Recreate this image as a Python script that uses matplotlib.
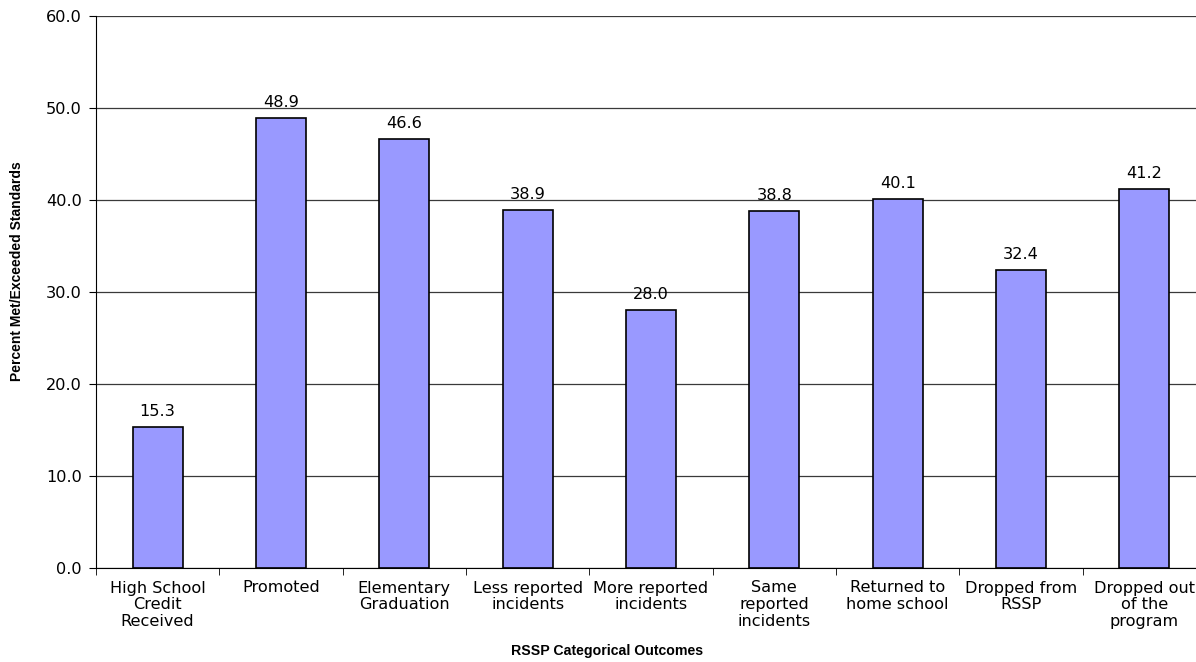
import matplotlib
matplotlib.use("Agg")
import matplotlib.pyplot as plt
import numpy as np

categories = [
    "High School\nCredit\nReceived",
    "Promoted",
    "Elementary\nGraduation",
    "Less reported\nincidents",
    "More reported\nincidents",
    "Same\nreported\nincidents",
    "Returned to\nhome school",
    "Dropped from\nRSSP",
    "Dropped out\nof the\nprogram",
]
values = [15.3, 48.9, 46.6, 38.9, 28.0, 38.8, 40.1, 32.4, 41.2]
y_ticks = [0, 10, 20, 30, 40, 50, 60]

plt.rcParams["font.family"] = ["DejaVu Sans"]
LABEL_FONT = ["Liberation Sans", "DejaVu Sans"]
FS = 11.6

W, H = 1196, 662
fig = plt.figure(figsize=(W / 100, H / 100), dpi=100)
ax = fig.add_axes([96 / W, 1 - 568 / H, 1110 / W, 552 / H])

x = np.arange(len(categories))
ax.set_axisbelow(True)
ax.yaxis.grid(True, color="#3a3a3a", linewidth=0.9)
ax.bar(x, values, width=0.405, color="#9999FF", edgecolor="black", linewidth=1.2)

for xi, v in zip(x, values):
    ax.annotate(f"{v:.1f}", (xi, v), xytext=(0, 6), textcoords="offset points",
                ha="center", va="bottom", fontsize=FS)

ax.set_xlim(-0.5, len(categories) - 0.5)
ax.set_ylim(0, 60)
ax.set_yticks(y_ticks)
ax.set_yticklabels([f"{t:.1f}" for t in y_ticks], fontsize=FS)
ax.set_xticks(x)
ax.set_xticklabels(categories, fontsize=FS, linespacing=1.15, va="top")
ax.set_xticks(np.arange(len(categories)) - 0.5, minor=True)
ax.tick_params(axis="x", which="major", length=0, pad=9)
ax.tick_params(axis="x", which="minor", length=5, direction="out", color="black")
ax.tick_params(axis="y", length=5, direction="out", pad=5, color="black")

for side in ("top", "right"):
    ax.spines[side].set_visible(False)
ax.spines["left"].set_color("black")
ax.spines["bottom"].set_color("black")

fig.text(607 / W, 1 - 651 / H, "RSSP Categorical Outcomes", ha="center", va="center",
         fontsize=10.2, fontweight="bold", family=LABEL_FONT)
fig.text(17 / W, 1 - 271 / H, "Percent Met/Exceeded Standards", ha="center", va="center",
         rotation=90, fontsize=10, fontweight="bold", family=LABEL_FONT)

fig.savefig("out.png", dpi=100)
